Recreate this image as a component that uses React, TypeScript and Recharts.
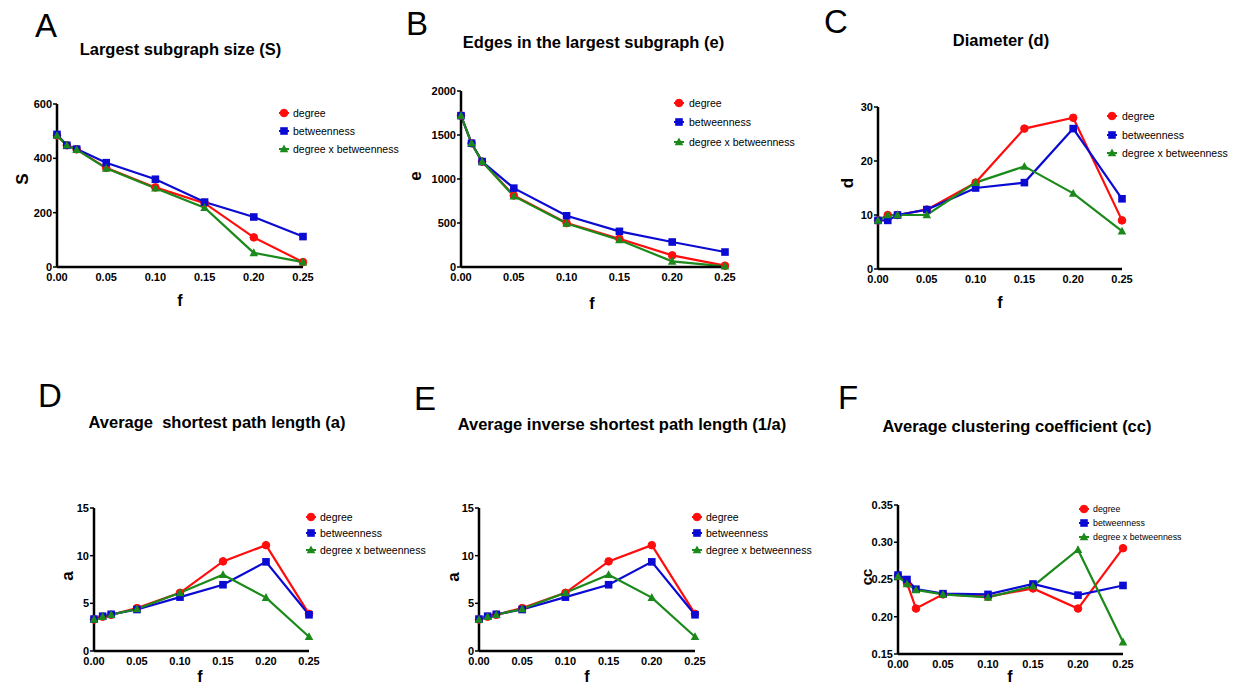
import React from 'react';
import { LineChart, Line, XAxis, YAxis } from 'recharts';

// ---------- data ----------
const F_VALUES = [0, 0.01, 0.02, 0.05, 0.1, 0.15, 0.2, 0.25];
const X_TICKS = [0, 0.05, 0.1, 0.15, 0.2, 0.25];
const SERIES_NAMES = ['degree', 'betweenness', 'degree x betweenness'];
const SERIES_KEYS = ['degree', 'betweenness', 'dxb'];

const S_DEGREE = [484, 448, 433, 365, 293, 235, 109, 18];
const S_BETWEENNESS = [488, 448, 434, 384, 323, 239, 184, 112];
const S_DXB = [484, 448, 432, 363, 290, 218, 52, 18];
const S_TICKS = [0, 200, 400, 600];

const E_DEGREE = [1720, 1406, 1198, 813, 499, 321, 132, 15];
const E_BETWEENNESS = [1720, 1406, 1198, 896, 582, 405, 284, 170];
const E_DXB = [1720, 1406, 1198, 805, 495, 306, 64, 8];
const E_TICKS = [0, 500, 1000, 1500, 2000];

const D_DEGREE = [9, 10, 10, 11, 16, 26, 28, 9];
const D_BETWEENNESS = [9, 9, 10, 11, 15, 16, 26, 13];
const D_DXB = [9, 10, 10, 10, 16, 19, 14, 7];
const D_TICKS = [0, 10, 20, 30];

const A_DEGREE = [3.3, 3.6, 3.8, 4.5, 6.1, 9.4, 11.1, 3.9];
const A_BETWEENNESS = [3.35, 3.65, 3.85, 4.35, 5.65, 6.95, 9.35, 3.8];
const A_DXB = [3.3, 3.6, 3.8, 4.4, 6.1, 8.0, 5.6, 1.5];
const A_TICKS = [0, 5, 10, 15];

const IA_DEGREE = [3.3, 3.6, 3.8, 4.5, 6.1, 9.4, 11.1, 3.9];
const IA_BETWEENNESS = [3.35, 3.65, 3.85, 4.35, 5.65, 6.95, 9.35, 3.8];
const IA_DXB = [3.3, 3.6, 3.8, 4.4, 6.1, 8.0, 5.6, 1.5];
const IA_TICKS = [0, 5, 10, 15];

const CC_DEGREE = [0.255, 0.245, 0.211, 0.23, 0.227, 0.238, 0.211, 0.292];
const CC_BETWEENNESS = [0.256, 0.25, 0.237, 0.231, 0.23, 0.244, 0.229, 0.242];
const CC_DXB = [0.254, 0.244, 0.236, 0.23, 0.226, 0.241, 0.29, 0.166];
const CC_TICKS = [0.15, 0.2, 0.25, 0.3, 0.35];

const COLORS: Record<string, string> = { degree: '#ff0d0d', betweenness: '#0a0ad2', dxb: '#1b8a1b' };
const FONT = '"Liberation Sans", Arial, sans-serif';

function rows(a: number[], b: number[], c: number[]) {
  return F_VALUES.map((f, i) => ({ f, degree: a[i], betweenness: b[i], dxb: c[i] }));
}

function Marker({ kind, cx, cy }: { kind: string; cx: number; cy: number }) {
  const col = COLORS[kind];
  if (kind === 'degree') return <circle cx={cx} cy={cy} r={3.8} fill={col} stroke={col} />;
  if (kind === 'betweenness') return <rect x={cx - 3.8} y={cy - 3.8} width={7.6} height={7.6} fill={col} />;
  return <polygon points={`${cx},${cy - 4.5} ${cx + 4.3},${cy + 3.3} ${cx - 4.3},${cy + 3.3}`} fill={col} />;
}

type PanelCfg = {
  x0: number; x1: number; y0: number; y1: number;
  data: any[]; domain: [number, number]; ticks: number[]; fmt: (v: number) => string;
};

const PANELS: PanelCfg[] = [
  { x0: 57, x1: 303, y0: 104, y1: 267, data: rows(S_DEGREE, S_BETWEENNESS, S_DXB), domain: [0, 600], ticks: S_TICKS, fmt: (v) => String(v) },
  { x0: 461, x1: 725, y0: 91, y1: 267, data: rows(E_DEGREE, E_BETWEENNESS, E_DXB), domain: [0, 2000], ticks: E_TICKS, fmt: (v) => String(v) },
  { x0: 878, x1: 1122, y0: 107, y1: 269, data: rows(D_DEGREE, D_BETWEENNESS, D_DXB), domain: [0, 30], ticks: D_TICKS, fmt: (v) => String(v) },
  { x0: 94, x1: 309, y0: 508, y1: 651, data: rows(A_DEGREE, A_BETWEENNESS, A_DXB), domain: [0, 15], ticks: A_TICKS, fmt: (v) => String(v) },
  { x0: 479, x1: 695, y0: 508, y1: 651, data: rows(IA_DEGREE, IA_BETWEENNESS, IA_DXB), domain: [0, 15], ticks: IA_TICKS, fmt: (v) => String(v) },
  { x0: 898, x1: 1123, y0: 505, y1: 654, data: rows(CC_DEGREE, CC_BETWEENNESS, CC_DXB), domain: [0.15, 0.35], ticks: CC_TICKS, fmt: (v) => v.toFixed(2) },
];

const LETTERS = [
  { t: 'A', x: 35, y: 37 }, { t: 'B', x: 406, y: 35 }, { t: 'C', x: 824, y: 33 },
  { t: 'D', x: 38, y: 407 }, { t: 'E', x: 414, y: 410 }, { t: 'F', x: 838, y: 409 },
];
const TITLES = [
  { t: 'Largest subgraph size (S)', x: 180.5, y: 55 },
  { t: 'Edges in the largest subgraph (e)', x: 593.5, y: 48 },
  { t: 'Diameter (d)', x: 1001, y: 46 },
  { t: 'Average  shortest path length (a)', x: 217, y: 428 },
  { t: 'Average inverse shortest path length (1/a)', x: 622, y: 430 },
  { t: 'Average clustering coefficient (cc)', x: 1017, y: 432 },
];
const YLABELS = [
  { t: 'S', x: 22, y: 179, s: 17 }, { t: 'e', x: 415, y: 176, s: 17 }, { t: 'd', x: 847, y: 183, s: 17 },
  { t: 'a', x: 67, y: 576, s: 17 }, { t: 'a', x: 453, y: 577, s: 17 }, { t: 'cc', x: 866, y: 577, s: 15 },
];
const XLABELS = [
  { x: 180, y: 300 }, { x: 592, y: 303 }, { x: 1000, y: 302 },
  { x: 200, y: 676 }, { x: 587, y: 676 }, { x: 1010, y: 676 },
];
const LEGENDS = [
  { mx: 284, tx: 293, ys: [113, 131, 149], s: 10.5 },
  { mx: 679, tx: 689, ys: [103, 122, 142], s: 10.5 },
  { mx: 1112, tx: 1122, ys: [116, 135, 153], s: 10.5 },
  { mx: 311, tx: 320, ys: [517, 533, 550], s: 10.5 },
  { mx: 697, tx: 706, ys: [517, 533, 550], s: 10.5 },
  { mx: 1084, tx: 1093, ys: [509, 523, 537], s: 8.8 },
];

const TICK_STYLE = { fill: '#000', fontSize: 11, fontWeight: 'bold', fontFamily: FONT };

function Panel({ cfg }: { cfg: PanelCfg }) {
  const L = 60, T = 10, R = 24, B = 36;
  const W = cfg.x1 - cfg.x0 + L + R;
  const H = cfg.y1 - cfg.y0 + T + B;
  return (
    <div style={{ position: 'absolute', left: cfg.x0 - L, top: cfg.y0 - T }}>
      <LineChart width={W} height={H} data={cfg.data} margin={{ top: T, right: R, bottom: 0, left: 0 }} style={{ overflow: 'visible' }}>
        <XAxis
          dataKey="f" type="number" domain={[0, 0.25]} ticks={X_TICKS} interval={0}
          tickFormatter={(v: number) => v.toFixed(2)} height={B}
          axisLine={{ stroke: '#000', strokeWidth: 2.5 }} tickLine={false} tickSize={4} tickMargin={2}
          tick={TICK_STYLE}
        />
        <YAxis
          type="number" domain={cfg.domain} ticks={cfg.ticks} width={L}
          tickFormatter={cfg.fmt} interval={0}
          axisLine={{ stroke: '#000', strokeWidth: 2.5 }} tickLine={{ stroke: '#000', strokeWidth: 1.5 }}
          tickSize={4} tickMargin={1}
          tick={TICK_STYLE}
        />
        {SERIES_KEYS.map((k) => (
          <Line
            key={k} dataKey={k} type="linear" stroke={COLORS[k]} strokeWidth={2.2}
            isAnimationActive={false} activeDot={false}
            dot={(p: any) => <Marker key={`${k}-${p.index}`} kind={k} cx={p.cx} cy={p.cy} />}
          />
        ))}
      </LineChart>
    </div>
  );
}

export default function App() {
  return (
    <div style={{ position: 'absolute', left: 0, top: 0, width: 1238, height: 685, background: '#fff', overflow: 'hidden' }}>
      {PANELS.map((p, i) => <Panel key={i} cfg={p} />)}
      <svg width={1238} height={685} style={{ position: 'absolute', left: 0, top: 0, pointerEvents: 'none' }}>
        {LETTERS.map((l) => (
          <text key={l.t} x={l.x} y={l.y} fontSize={33} fontFamily={FONT} fill="#000">{l.t}</text>
        ))}
        {TITLES.map((t, i) => (
          <text key={i} x={t.x} y={t.y} fontSize={16.5} fontWeight="bold" fontFamily={FONT} textAnchor="middle" fill="#000" style={{ whiteSpace: 'pre' }}>{t.t}</text>
        ))}
        {YLABELS.map((l, i) => (
          <text key={i} x={l.x} y={l.y} fontSize={l.s} fontWeight="bold" fontFamily={FONT} textAnchor="middle" dominantBaseline="central" transform={`rotate(-90 ${l.x} ${l.y})`} fill="#000">{l.t}</text>
        ))}
        {XLABELS.map((l, i) => (
          <text key={i} x={l.x} y={l.y} fontSize={16} fontWeight="bold" fontFamily={FONT} textAnchor="middle" dominantBaseline="central" fill="#000">f</text>
        ))}
        {LEGENDS.map((lg, i) => (
          <g key={i}>
            {SERIES_KEYS.map((k, j) => (
              <g key={k}>
                <line x1={lg.mx - 5} x2={lg.mx + 5} y1={lg.ys[j]} y2={lg.ys[j]} stroke={COLORS[k]} strokeWidth={2} />
                <Marker kind={k} cx={lg.mx} cy={lg.ys[j]} />
                <text x={lg.tx} y={lg.ys[j]} fontSize={lg.s} fontFamily={FONT} dominantBaseline="central" fill="#000">{SERIES_NAMES[j]}</text>
              </g>
            ))}
          </g>
        ))}
      </svg>
    </div>
  );
}
